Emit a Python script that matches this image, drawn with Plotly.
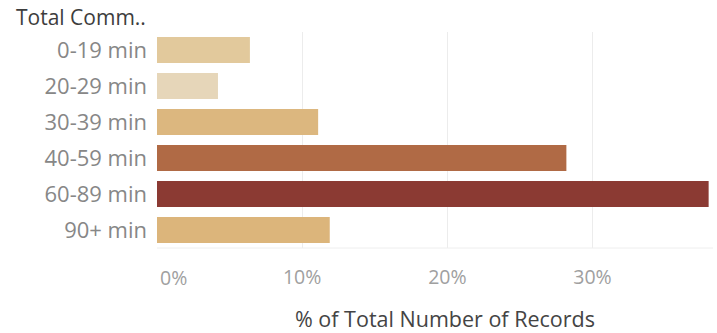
import plotly.graph_objects as go

categories = ["0-19 min", "20-29 min", "30-39 min", "40-59 min", "60-89 min", "90+ min"]
values = [6.4, 4.2, 11.1, 28.2, 38.0, 11.9]
colors = ["#e2c99c", "#e6d6b9", "#dcb77f", "#b06a45", "#8b3a33", "#dcb57b"]
tick_vals = [10, 20, 30]
tick_text = ["10%", "20%", "30%"]
first_tick_val = 0
first_tick_text = "0%"

L, R, T, B = 157, 4, 32, 85
PLOT_W = 717 - L - R
PLOT_H = 333 - T - B

fig = go.Figure(go.Bar(
    x=values, y=categories, orientation="h",
    marker=dict(color=colors, line=dict(width=0)),
    hovertemplate="%{y}: %{x:.1f}%<extra></extra>",
))

fig.update_layout(
    width=717, height=333,
    margin=dict(l=L, r=R, t=T, b=B, autoexpand=False),
    paper_bgcolor="white", plot_bgcolor="white",
    font=dict(family="Open Sans, Lato, sans-serif", color="#888888", size=20),
    bargap=0.28,
    showlegend=False,
    xaxis=dict(
        range=[0, 38.3], automargin=False,
        tickvals=tick_vals, ticktext=tick_text,
        showgrid=True, gridcolor="#ececec", gridwidth=1,
        zeroline=False, showline=False,
        ticks="", ticklabelstandoff=15,
        tickfont=dict(size=19.5, color="#a0a0a0"),
    ),
    yaxis=dict(
        categoryorder="array", categoryarray=categories[::-1], automargin=False,
        showgrid=False, zeroline=False, showline=False,
        ticks="", ticklabelstandoff=9,
        tickfont=dict(size=22, color="#878787"),
    ),
    shapes=[dict(type="line", xref="paper", yref="paper", x0=0, x1=1, y0=0, y1=0,
                 line=dict(color="#eeeeee", width=1))],
    annotations=[
        dict(text="Total Comm..", xref="paper", yref="paper",
             x=-(L - 14) / PLOT_W, y=1, xanchor="left", yanchor="middle", yshift=T - 17,
             showarrow=False, font=dict(size=21, color="#3d3d3d")),
        dict(text=first_tick_text, xref="x", yref="paper",
             x=first_tick_val, y=0, xanchor="left", yanchor="top", xshift=1, yshift=-14,
             showarrow=False, font=dict(size=19.5, color="#a0a0a0")),
        dict(text="% of Total Number of Records", xref="paper", yref="paper",
             x=(445 - L) / PLOT_W, y=0, xanchor="center", yanchor="middle", yshift=-(318 - 333 + B),
             showarrow=False, font=dict(size=21.5, color="#444444")),
    ],
)

fig.write_html("out.html", config={"displayModeBar": False},
               post_script="document.body.style.margin='0';")
